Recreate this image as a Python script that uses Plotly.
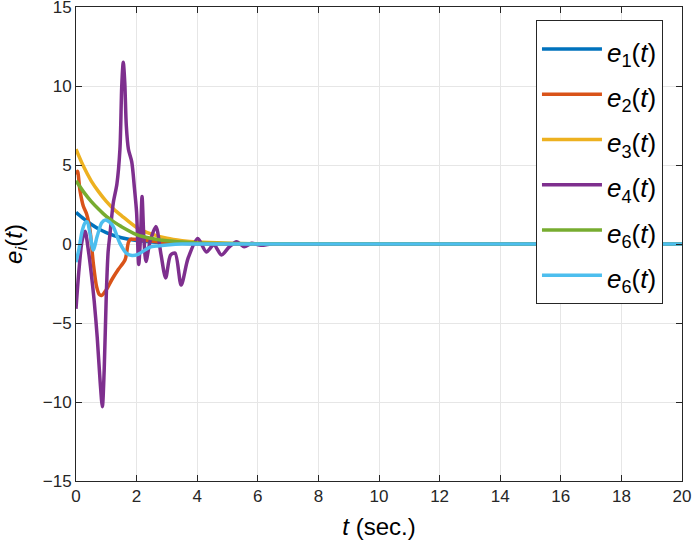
import plotly.graph_objects as go

# ---- data ----
t_e1 = [0, 0.25, 0.5, 0.75, 1.0, 1.25, 1.5, 2.0, 2.5, 3.0, 3.5, 4.0, 5.0, 6.0, 20]
e1 = [2.0, 1.6, 1.25, 0.95, 0.72, 0.54, 0.4, 0.22, 0.13, 0.07, 0.04, 0.02, 0.01, 0.0, 0.0]

t_e2 = [0, 0.05, 0.13, 0.24, 0.35, 0.46, 0.57, 0.68, 0.77, 0.85, 1.0, 1.2, 1.4, 1.62, 1.73, 1.8, 1.9, 2.2, 2.6, 3.0, 4.0, 5.0, 20]
e2 = [4.4, 4.6, 3.4, 2.4, 1.9, 0.9, -1.2, -2.7, -3.2, -3.25, -2.9, -2.2, -1.6, -1.0, 0.1, 0.3, 0.3, 0.25, 0.15, 0.08, 0.02, 0.0, 0.0]

t_e3 = [0, 0.25, 0.5, 0.75, 1.0, 1.25, 1.5, 2.0, 2.5, 3.0, 3.5, 4.0, 5.0, 6.0, 20]
e3 = [6.0, 4.9, 4.0, 3.3, 2.7, 2.2, 1.8, 1.05, 0.62, 0.36, 0.21, 0.12, 0.05, 0.02, 0.0]

t_e4 = [0, 0.1, 0.2, 0.3, 0.4, 0.5, 0.6, 0.7, 0.8, 0.87, 0.93, 1.0, 1.06, 1.12, 1.23, 1.35, 1.45, 1.51, 1.56, 1.61, 1.66,
        1.73, 1.84, 1.93, 2.0, 2.07, 2.13, 2.18, 2.24, 2.31, 2.45, 2.64, 2.8, 2.96, 3.12, 3.27, 3.47, 3.7, 4.02,
        4.3, 4.55, 4.8, 5.05, 5.3, 5.55, 5.8, 6.1, 6.5, 7.0, 8.0, 20]
e4 = [-4.1, -1.6, 0.2, 0.8, -0.3, -1.8, -3.6, -5.9, -8.8, -10.3, -8.0, -3.2, -0.5, 0.6, 2.6, 3.8, 6.0, 10.0, 11.5, 10.2, 7.5,
      6.0, 5.2, 3.5, 2.0, -1.3, 0.5, 3.0, 0.4, -1.1, 0.2, 1.1, -0.6, -2.15, -0.7, -0.58, -2.6, -0.9, 0.35,
      -0.5, -0.05, -0.7, -0.2, 0.15, -0.17, 0.05, -0.08, 0.02, 0.0, 0.0, 0.0]

t_e5 = [0, 0.25, 0.5, 0.75, 1.0, 1.25, 1.5, 2.0, 2.5, 3.0, 3.5, 4.0, 5.0, 6.0, 20]
e5 = [4.0, 3.3, 2.7, 2.2, 1.75, 1.4, 1.1, 0.6, 0.35, 0.2, 0.12, 0.07, 0.03, 0.01, 0.0]

t_e6 = [0, 0.1, 0.2, 0.3, 0.37, 0.46, 0.57, 0.7, 0.85, 0.97, 1.1, 1.23, 1.45, 1.67, 1.85, 2.05, 2.44, 2.7, 3.0, 3.5, 4.0, 5.0, 20]
e6 = [-1.15, -0.3, 0.8, 1.35, 1.4, 0.7, -0.38, 0.5, 1.35, 1.52, 1.4, 1.1, 0.04, -0.59, -0.73, -0.65, -0.2, -0.12, -0.06, 0.0, 0.0, 0.0, 0.0]

legend_names = ["<i>e</i><sub>1</sub>(<i>t</i>)", "<i>e</i><sub>2</sub>(<i>t</i>)", "<i>e</i><sub>3</sub>(<i>t</i>)",
                "<i>e</i><sub>4</sub>(<i>t</i>)", "<i>e</i><sub>6</sub>(<i>t</i>)", "<i>e</i><sub>6</sub>(<i>t</i>)"]
colors = ["#0072BD", "#D95319", "#EDB120", "#7E2F8E", "#77AC30", "#4DBEEE"]
xs = [t_e1, t_e2, t_e3, t_e4, t_e5, t_e6]
ys = [e1, e2, e3, e4, e5, e6]

x_ticks = list(range(0, 21, 2))
y_ticks = [-15, -10, -5, 0, 5, 10, 15]

fig = go.Figure()
for tx, vy, name, color in zip(xs, ys, legend_names, colors):
    fig.add_trace(go.Scatter(x=tx, y=vy, mode="lines",
                             name="<span style='font-size:26px'>" + name + "</span>",
                             line=dict(color=color, width=3.5, shape="spline", smoothing=0.8)))

font_family = "Liberation Sans, Arial, sans-serif"
axis_common = dict(showline=True, linecolor="#262626", linewidth=1, mirror="ticks",
                   ticks="inside", ticklen=6, tickcolor="#262626", automargin=False,
                   ticklabeloverflow="allow",
                   showgrid=True, gridcolor="#e6e6e6", gridwidth=1, zeroline=False,
                   tickfont=dict(family=font_family, size=17, color="#262626"))

fig.update_layout(
    width=692, height=546,
    margin=dict(l=76, r=10, t=7, b=65),
    paper_bgcolor="white", plot_bgcolor="white",
    font=dict(family=font_family, color="#262626"),
    xaxis=dict(range=[0, 20], tickvals=x_ticks,
               title=dict(text="<i>t</i> (sec.)", font=dict(size=24, color="black"), standoff=12), **axis_common),
    yaxis=dict(range=[-15, 15], tickvals=y_ticks,
               title=dict(text="<i>e</i><sub><i>i</i></sub>(<i>t</i>)", font=dict(size=24, color="black"), standoff=14), **axis_common),
    legend=dict(x=0.9686, y=0.972, xanchor="right", yanchor="top",
                bgcolor="white", bordercolor="#262626", borderwidth=1,
                font=dict(family=font_family, size=32.5, color="black"),
                itemwidth=60, tracegroupgap=0),
    showlegend=True,
)

fig.write_html("out.html", config={"displayModeBar": False},
               post_script="document.body.style.margin='0px';")
